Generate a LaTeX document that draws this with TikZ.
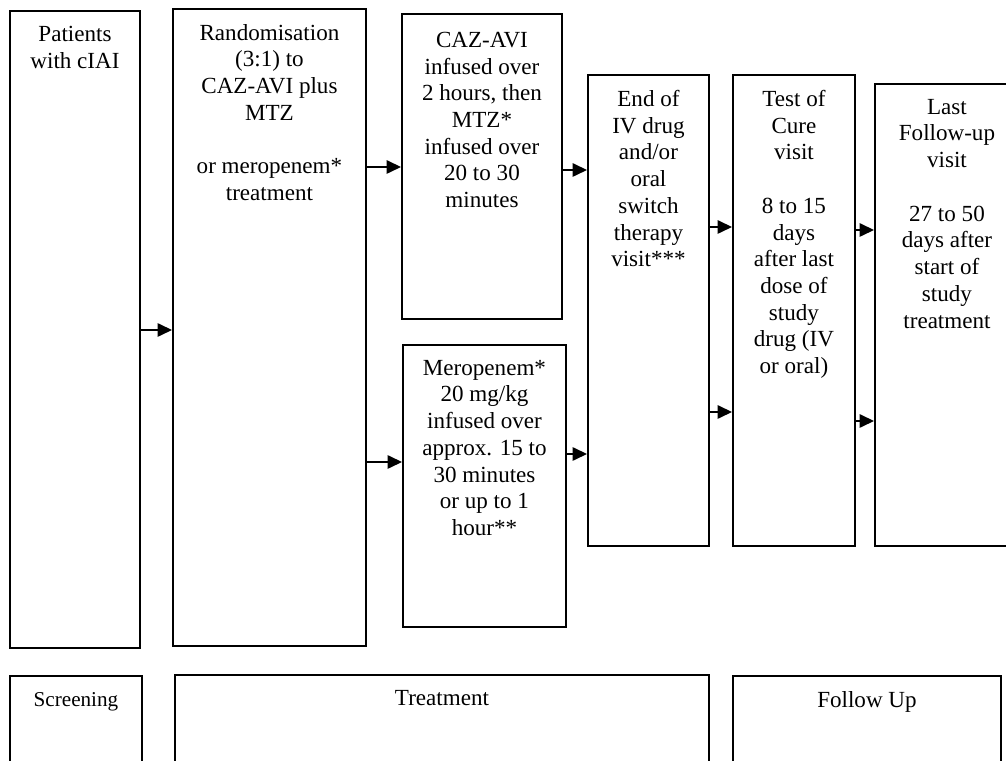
\documentclass[tikz,border=0pt]{standalone}
\usepackage{fontspec}
\setmainfont{Liberation Serif}
\usetikzlibrary{arrows.meta}

\begin{document}
\begin{tikzpicture}[
  x=0.52pt,y=-0.52pt,
  stage/.style 2 args={draw,line width=1pt,anchor=north west,inner sep=0pt,
    minimum width=#1*0.52pt,minimum height=#2*0.52pt},
  body/.style={anchor=north,inner sep=0pt,align=center,yshift=-8.2pt,
    font=\fontsize{12}{13.9}\selectfont},
  small/.style={anchor=north,inner sep=0pt,align=center,yshift=-9pt,
    font=\fontsize{11}{13}\selectfont},
  arrow/.style={-{Triangle[length=7.5pt,width=7pt]},line width=0.8pt}
]
\clip (0,0) rectangle (1006,761);
% upper row
\node[stage={130}{637},label={[body]north:{Patients\\with cIAI}}] (pat) at (9,10) {};
\node[stage={193}{637},label={[body]north:{Randomisation\\(3:1) to\\CAZ-AVI plus\\MTZ\\[13.9pt]or meropenem*\\treatment}}] (rand) at (172,8) {};
\node[stage={160}{305},label={[body,yshift=-1.5pt]north:{CAZ-AVI\\infused over\\2 hours, then\\MTZ*\\infused over\\20 to 30\\minutes}}] (caz) at (401,13) {};
\node[stage={163}{282},label={[body]north:{Meropenem*\\20 mg/kg\\infused over\\approx. 15 to\\30 minutes\\or up to 1\\hour**}}] (mero) at (402,344) {};
\node[stage={121}{471},label={[body]north:{End of\\IV drug\\and/or\\oral\\switch\\therapy\\visit***}}] (eoiv) at (587,74) {};
\node[stage={122}{471},label={[body]north:{Test of\\Cure\\visit\\[13.9pt]8 to 15\\days\\after last\\dose of\\study\\drug (IV\\or oral)}}] (toc) at (732,74) {};
\node[stage={144}{462},label={[body]north:{Last\\Follow-up\\visit\\[13.9pt]27 to 50\\days after\\start of\\study\\treatment}}] (lfu) at (874,83) {};
% phases
\node[stage={132}{100},label={[small]north:{Screening}}] (scr) at (9,675) {};
\node[stage={534}{100},label={[body]north:{Treatment}}] (treat) at (174,674) {};
\node[stage={268}{100},label={[body]north:{Follow Up}}] (fu) at (732,675) {};

\draw[arrow] (pat.east |- 0,330) -- (rand.west |- 0,330);
\draw[arrow] (rand.east |- 0,167) -- (caz.west |- 0,167);
\draw[arrow] (rand.east |- 0,462) -- (mero.west |- 0,462);
\draw[arrow] (caz.east |- 0,170) -- (eoiv.west |- 0,170);
\draw[arrow] (mero.east |- 0,454) -- (eoiv.west |- 0,454);
\draw[arrow] (eoiv.east |- 0,227) -- (toc.west |- 0,227);
\draw[arrow] (eoiv.east |- 0,412) -- (toc.west |- 0,412);
\draw[arrow] (toc.east |- 0,230) -- (lfu.west |- 0,230);
\draw[arrow] (toc.east |- 0,421) -- (lfu.west |- 0,421);
\end{tikzpicture}
\end{document}
